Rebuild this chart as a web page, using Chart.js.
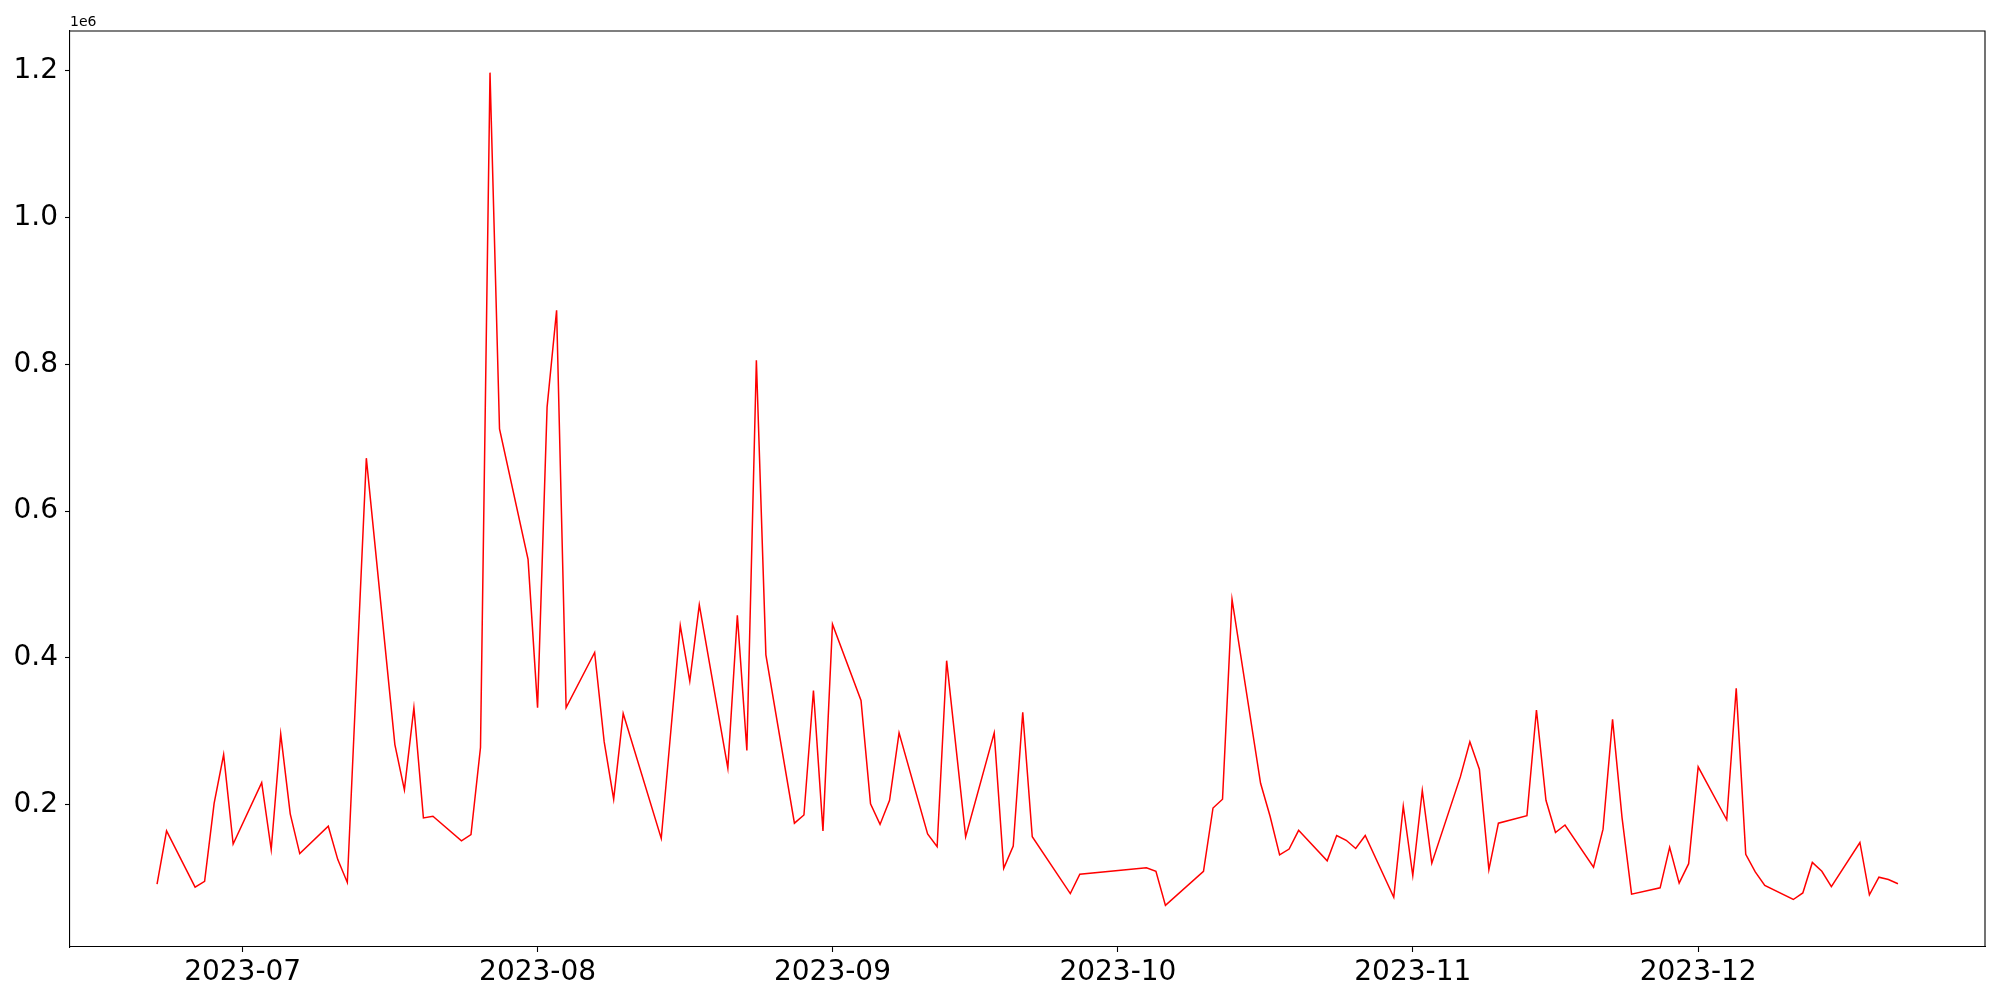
<!DOCTYPE html>
<html><head><meta charset="utf-8">
<script src="https://cdn.jsdelivr.net/npm/chart.js@4.4.0/dist/chart.umd.min.js"></script>
<style>html,body{margin:0;padding:0;background:#fff;}#wrap{width:2000px;height:1000px;}</style>
</head><body><div id="wrap"><canvas id="c" width="2000" height="1000"></canvas></div>
<script>
const dates = [
'2023-06-22','2023-06-23','2023-06-26','2023-06-27','2023-06-28','2023-06-29','2023-06-30',
'2023-07-03','2023-07-04','2023-07-05','2023-07-06','2023-07-07','2023-07-10','2023-07-11','2023-07-12','2023-07-14',
'2023-07-17','2023-07-18','2023-07-19','2023-07-20','2023-07-21','2023-07-24','2023-07-25','2023-07-26','2023-07-27','2023-07-28','2023-07-31',
'2023-08-01','2023-08-02','2023-08-03','2023-08-04','2023-08-07','2023-08-08','2023-08-09','2023-08-10','2023-08-14','2023-08-16','2023-08-17','2023-08-18',
'2023-08-21','2023-08-22','2023-08-23','2023-08-24','2023-08-25','2023-08-28','2023-08-29','2023-08-30','2023-08-31',
'2023-09-01','2023-09-04','2023-09-05','2023-09-06','2023-09-07','2023-09-08','2023-09-11','2023-09-12','2023-09-13','2023-09-15',
'2023-09-18','2023-09-19','2023-09-20','2023-09-21','2023-09-22','2023-09-26','2023-09-27',
'2023-10-04','2023-10-05','2023-10-06','2023-10-10','2023-10-11','2023-10-12','2023-10-13','2023-10-16','2023-10-17','2023-10-18','2023-10-19','2023-10-20',
'2023-10-23','2023-10-24','2023-10-25','2023-10-26','2023-10-27','2023-10-30','2023-10-31',
'2023-11-01','2023-11-02','2023-11-03','2023-11-06','2023-11-07','2023-11-08','2023-11-09','2023-11-10','2023-11-13','2023-11-14','2023-11-15','2023-11-16','2023-11-17',
'2023-11-20','2023-11-21','2023-11-22','2023-11-23','2023-11-24','2023-11-27','2023-11-28','2023-11-29','2023-11-30',
'2023-12-01','2023-12-04','2023-12-05','2023-12-06','2023-12-07','2023-12-08','2023-12-11','2023-12-12','2023-12-13','2023-12-14','2023-12-15',
'2023-12-18','2023-12-19','2023-12-20','2023-12-21','2023-12-22'
];
const values = [
91300,164000,87300,95300,201600,268000,146000,
229700,138500,296000,187300,133000,170400,124900,93700,672000,
281700,220000,332000,181700,184000,150500,159000,277700,1197500,712000,534000,
332000,741600,873600,332000,407200,285600,207200,324000,153700,444000,368000,472000,
249600,457700,273700,805600,404000,174500,185700,355300,164000,
445700,341700,200800,172800,205700,297600,160000,142500,396000,156000,
297600,112900,143300,325700,156000,78500,104900,
113700,109000,62500,109000,195200,207200,479500,228900,184000,131300,139300,164800,
123200,157700,151200,140000,157700,73600,197700,
103200,219200,120000,237600,285600,248000,111200,174500,184800,328800,205700,161700,172000,
114500,166400,316000,181700,77700,86400,141700,92800,119300,
251300,179200,358400,132000,108100,89700,70500,79400,121000,109000,88000,
148200,76900,100900,97700,92000
];
const monthTicks = ['2023-07','2023-08','2023-09','2023-10','2023-11','2023-12'];
const yTicks = [0.2,0.4,0.6,0.8,1.0,1.2];
const yMultiplier = 1e6;
const offsetText = '1e6';

const toTs = s => Date.parse(s + 'T00:00:00Z');
const xs = dates.map(toTs);
const xMinD = Math.min(...xs), xMaxD = Math.max(...xs), xm = 0.05*(xMaxD-xMinD);
const yMinD = Math.min(...values), yMaxD = Math.max(...values), ym = 0.05*(yMaxD-yMinD);
const FONT = 'DejaVu Sans';

const framePlugin = {
  id:'frame',
  afterDraw(chart){
    const {ctx, chartArea:a} = chart;
    ctx.save();
    ctx.strokeStyle = '#000'; ctx.lineWidth = 1.1;
    ctx.beginPath();
    ctx.moveTo(a.left, a.top); ctx.lineTo(a.right, a.top); ctx.lineTo(a.right, a.bottom);
    ctx.stroke();
    ctx.fillStyle = '#000';
    ctx.font = '14px "' + FONT + '"';
    ctx.textBaseline = 'alphabetic'; ctx.textAlign = 'left';
    ctx.fillText(offsetText, a.left, a.top - 5);
    ctx.restore();
  }
};

new Chart(document.getElementById('c'), {
  type:'line',
  data:{datasets:[{
    data: xs.map((x,i)=>({x:x, y:values[i]})),
    borderColor:'#ff0000', borderWidth:1.5, pointRadius:0, tension:0, fill:false
  }]},
  options:{
    responsive:false, animation:false, devicePixelRatio:1,
    layout:{padding:{top:31, right:15, left:0, bottom:0}},
    plugins:{legend:{display:false}, tooltip:{enabled:false}},
    scales:{
      x:{
        type:'linear', min:xMinD-xm, max:xMaxD+xm,
        afterBuildTicks: s => { s.ticks = monthTicks.map(m => ({value: toTs(m + '-01')})); },
        ticks:{
          callback: v => { const d = new Date(v); return d.getUTCFullYear() + '-' + String(d.getUTCMonth()+1).padStart(2,'0'); },
          font:{family:FONT, size:28}, color:'#000', padding:4, maxRotation:0, autoSkip:false
        },
        grid:{drawOnChartArea:false, drawTicks:true, tickLength:5, tickColor:'#000', tickWidth:1.1},
        border:{display:true, color:'#000', width:1.1},
        afterFit: s => { s.height = 53; }
      },
      y:{
        type:'linear', min:yMinD-ym, max:yMaxD+ym,
        afterBuildTicks: s => { s.ticks = yTicks.map(v => ({value: v*yMultiplier})); },
        ticks:{
          callback: v => (v/yMultiplier).toFixed(1),
          font:{family:FONT, size:28}, color:'#000', padding:7, autoSkip:false
        },
        grid:{drawOnChartArea:false, drawTicks:true, tickLength:5, tickColor:'#000', tickWidth:1.1},
        border:{display:true, color:'#000', width:1.1},
        afterFit: s => { s.width = 70; }
      }
    }
  },
  plugins:[framePlugin]
});
</script>
</body></html>
